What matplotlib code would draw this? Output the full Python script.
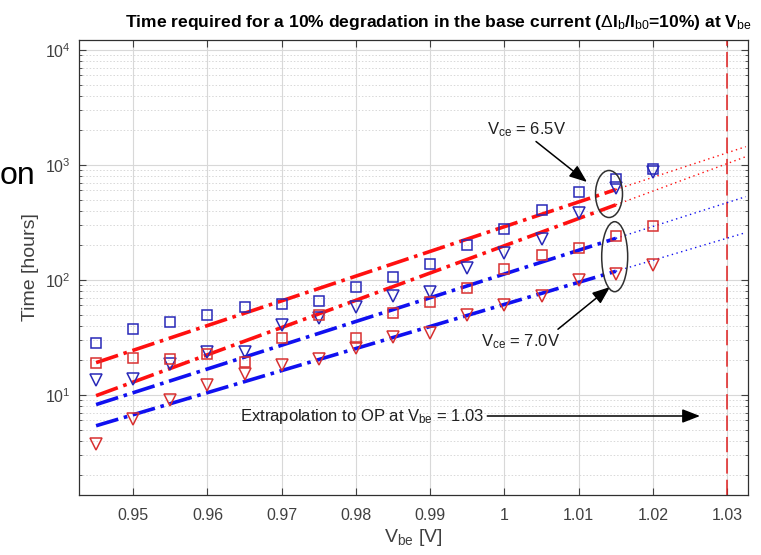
import matplotlib
matplotlib.use("Agg")

import matplotlib.pyplot as plt
from matplotlib.patches import Ellipse
from matplotlib.ticker import LogLocator, NullFormatter, FixedLocator

plt.rcParams["font.family"] = ["Liberation Sans", "DejaVu Sans"]
plt.rcParams["mathtext.fontset"] = "custom"
plt.rcParams["mathtext.rm"] = "Liberation Sans"
plt.rcParams["mathtext.it"] = "Liberation Sans"
plt.rcParams["mathtext.bf"] = "Liberation Sans:bold"

# measured points
vbe = [0.945, 0.95, 0.955, 0.96, 0.965, 0.97, 0.975, 0.98,
       0.985, 0.99, 0.995, 1.0, 1.005, 1.01, 1.015, 1.02]
blue_sq = [28.5, 37.5, 43.3, 49.9, 58.2, 62.2, 65.6, 87,
           106, 137, 200, 279, 406, 580, 751, 918]
blue_tri = [13.5, 13.9, 18.6, 23.7, 23.8, 40.6, 46.4, 58.6,
            72.6, 79, 126, 171, 228, 380, 627, 875]
red_sq = [19.1, 21.1, 20.7, 22.6, 19.5, 31.5, 49.7, 31.5,
          51.3, 64, 85.7, 125, 164, 191, 242, 295]
red_tri = [3.75, 6.2, 9.06, 12.2, 15.2, 18.2, 20.6, 25.5,
           32.1, 34.8, 49.7, 60.7, 72, 100, 113, 135]

# fitted lines (fit range) and their extrapolation to the edge
x_fit = [0.945, 1.015]
x_ext = [1.015, 1.0325]
fit_red_a = [19.1, 611]
ext_red_a = [611, 1442]
fit_red_b = [9.86, 450]
ext_red_b = [450, 1180]
fit_blue_a = [8.25, 230]
ext_blue_a = [230, 530]
fit_blue_b = [5.4, 119]
ext_blue_b = [119, 258]

x_ticks = [0.95, 0.96, 0.97, 0.98, 0.99, 1.0, 1.01, 1.02, 1.03]
x_labels = ["0.95", "0.96", "0.97", "0.98", "0.99", "1", "1.01", "1.02", "1.03"]
v_op = 1.03

RED = "#ff1010"
BLUE = "#1010f0"
MRED = "#d83030"
MBLUE = "#2828b8"
GREY = "#404040"

fig = plt.figure(figsize=(7.61, 5.55), dpi=100)
ax = fig.add_axes([79 / 761, 1 - 495 / 555, 669 / 761, 455 / 555])

for xs, ys, col in [(x_fit, fit_red_a, RED), (x_fit, fit_red_b, RED),
                    (x_fit, fit_blue_a, BLUE), (x_fit, fit_blue_b, BLUE)]:
    ax.plot(xs, ys, ls="-.", color=col, lw=2.6, zorder=3)
for xs, ys, col in [(x_ext, ext_red_a, RED), (x_ext, ext_red_b, RED),
                    (x_ext, ext_blue_a, BLUE), (x_ext, ext_blue_b, BLUE)]:
    ax.plot(xs, ys, ls=(0, (1, 2.5)), color=col, lw=1.0, zorder=3)

ax.plot(vbe, blue_sq, ls="none", marker="s", ms=6.5, mfc="none", mec=MBLUE, mew=1.1, zorder=4)
ax.plot(vbe, blue_tri, ls="none", marker="v", ms=8.5, mfc="none", mec=MBLUE, mew=1.1, zorder=4)
ax.plot(vbe, red_sq, ls="none", marker="s", ms=6.5, mfc="none", mec=MRED, mew=1.1, zorder=4)
ax.plot(vbe, red_tri, ls="none", marker="v", ms=8.5, mfc="none", mec=MRED, mew=1.1, zorder=4)

ax.axvline(v_op, color="#e02020", ls=(0, (10, 4)), lw=1.1, zorder=2)

ax.set_yscale("log")
ax.set_xlim(0.9427, 1.0328)
ax.set_ylim(1.35, 1.22e4)
ax.xaxis.set_major_locator(FixedLocator(x_ticks))
ax.set_xticklabels(x_labels)
ax.yaxis.set_major_locator(LogLocator(base=10, numticks=10))
ax.yaxis.set_minor_locator(LogLocator(base=10, subs=range(2, 10), numticks=20))
ax.yaxis.set_minor_formatter(NullFormatter())

ax.grid(True, which="major", color="#d8d8d8", lw=0.8, zorder=0)
ax.grid(True, which="minor", axis="y", color="#d8d8d8", ls=(0, (1.5, 2)), lw=0.7, zorder=0)
ax.set_axisbelow(True)
ax.tick_params(which="both", direction="in", top=True, right=True,
               colors=GREY, labelsize=11.5, labelcolor=GREY)
ax.tick_params(which="major", length=5)
ax.tick_params(which="minor", length=2.5)
ax.tick_params(axis="x", pad=9)
ax.tick_params(axis="y", pad=6)
for s in ax.spines.values():
    s.set_color("#303030")
    s.set_linewidth(0.9)

ax.set_xlabel(r"V$_{\rm be}$ [V]", fontsize=14, color=GREY, labelpad=3)
ax.set_ylabel("Time [hours]", fontsize=14, color=GREY, labelpad=4)
ax.set_title(r"Time required for a 10% degradation in the base current "
             r"($\Delta$I$_{\rm b}$/I$_{\rm b0}$=10%) at V$_{\rm be}$",
             fontsize=12.6, fontweight="bold", pad=9, x=0.537)

# ellipses marking the last fitted points
ax.add_patch(Ellipse(((609 - 79) / 669, (495 - 194) / 455), 27 / 669, 47 / 455,
                     transform=ax.transAxes, fill=False, ec="#303030", lw=1.1, zorder=5))
ax.add_patch(Ellipse(((614.7 - 79) / 669, (495 - 256.7) / 455), 26 / 669, 70 / 455,
                     transform=ax.transAxes, fill=False, ec="#303030", lw=1.1, zorder=5))

arrow = dict(arrowstyle="-|>,head_length=0.9,head_width=0.35", color="black", lw=1.1,
             shrinkA=0, shrinkB=0)
ax.annotate(r"V$_{\rm ce}$ = 6.5V", xy=(587, 555 - 182), xycoords="figure pixels",
            xytext=(487, 555 - 134), textcoords="figure pixels", fontsize=12,
            color="#202020", arrowprops=dict(arrow, relpos=(0.62, -0.15)))
ax.annotate(r"V$_{\rm ce}$ = 7.0V", xy=(610, 555 - 287), xycoords="figure pixels",
            xytext=(481, 555 - 346), textcoords="figure pixels", fontsize=12,
            color="#202020", arrowprops=dict(arrow, relpos=(0.93, 1.0)))
ax.annotate(r"Extrapolation to OP at V$_{\rm be}$ = 1.03", xy=(700, 555 - 416),
            xycoords="figure pixels", xytext=(240, 555 - 416), textcoords="figure pixels",
            fontsize=12, color="#202020", va="center",
            arrowprops=dict(arrow, relpos=(1, 0.5)))

# cut-off word from the neighbouring slide
fig.text(0.0, 1 - 184 / 555, "on", fontsize=23, ha="left", va="baseline")

fig.savefig("out.png", dpi=100)
